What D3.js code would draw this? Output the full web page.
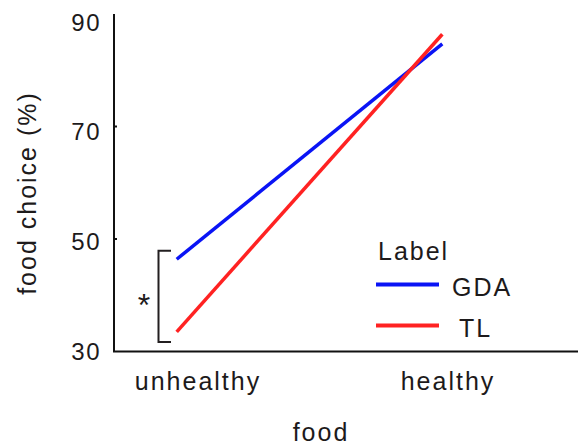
<!DOCTYPE html>
<html>
<head>
<meta charset="utf-8">
<script src="https://cdn.jsdelivr.net/npm/d3@7"></script>
<style>
  body { margin: 0; background: #fff; }
  text { font-family: "Liberation Sans", Arial, sans-serif; fill: #1d1a1b; letter-spacing: 2px; }
</style>
</head>
<body>
<div id="svg-container"></div>
<script>
// data
const foods = ["unhealthy", "healthy"];
const labels = ["GDA", "TL"];
const gdaValues = [46.4, 84.7];
const tlValues = [33.5, 86.4];
const yTicks = [30, 50, 70, 90];
const bracketValues = [47.9, 31.7];

const width = 578, height = 445;
const svg = d3.select("#svg-container").append("svg")
  .attr("width", width).attr("height", height);

const colors = { GDA: "#0a14f5", TL: "#ff2222" };
const series = [
  { name: "GDA", values: gdaValues },
  { name: "TL", values: tlValues }
];

// scales
const y = d3.scaleLinear().domain([30, 90]).range([351.5, 14]);
const yLabel = d3.scaleLinear().domain([30, 90]).range([351, 22]);
const xLabel = d3.scalePoint().domain(foods).range([198, 448]);
const xLine = d3.scalePoint().domain(foods).range([176.7, 442.3]);

const axisColor = "#111";

// axes
svg.append("line")
  .attr("x1", 114).attr("x2", 114)
  .attr("y1", y(90)).attr("y2", y(30))
  .attr("stroke", axisColor).attr("stroke-width", 2);
svg.append("line")
  .attr("x1", 113).attr("x2", width)
  .attr("y1", y(30)).attr("y2", y(30))
  .attr("stroke", axisColor).attr("stroke-width", 2);

svg.selectAll(".ytick")
  .data(yTicks.slice(1, 3))
  .enter().append("line")
  .attr("x1", 114).attr("x2", 117)
  .attr("y1", d => y(d)).attr("y2", d => y(d))
  .attr("stroke", axisColor).attr("stroke-width", 2);

svg.selectAll(".ylab")
  .data(yTicks)
  .enter().append("text")
  .attr("x", 101)
  .attr("y", d => yLabel(d))
  .attr("dy", "0.36em")
  .attr("text-anchor", "end")
  .attr("font-size", 24)
  .style("letter-spacing", "1.5px")
  .text(d => d);

svg.selectAll(".xlab")
  .data(foods)
  .enter().append("text")
  .attr("x", d => xLabel(d))
  .attr("y", 390)
  .attr("text-anchor", "middle")
  .attr("font-size", 25)
  .text(d => d);

// axis titles
svg.append("text")
  .attr("x", 321).attr("y", 441)
  .attr("text-anchor", "middle")
  .attr("font-size", 25)
  .text("food");

svg.append("text")
  .attr("transform", "translate(36,193) rotate(-90)")
  .attr("text-anchor", "middle")
  .attr("font-size", 25)
  .text("food choice (%)");

// lines
const line = d3.line()
  .x((d, i) => xLine(foods[i]))
  .y(d => y(d));

svg.selectAll(".series")
  .data(series)
  .enter().append("path")
  .attr("d", d => line(d.values))
  .attr("fill", "none")
  .attr("stroke", d => colors[d.name])
  .attr("stroke-width", 3.5);

// significance bracket
const bx = 158.5, bcap = 171;
svg.append("path")
  .attr("d", `M${bcap},${y(bracketValues[0])}H${bx}V${y(bracketValues[1])}H${bcap}`)
  .attr("fill", "none")
  .attr("stroke", "#231f20")
  .attr("stroke-width", 2);
svg.append("text")
  .attr("x", 144).attr("y", 316)
  .attr("text-anchor", "middle")
  .attr("font-size", 32)
  .style("letter-spacing", "0px")
  .text("*");

// legend
svg.append("text")
  .attr("x", 378).attr("y", 260)
  .attr("font-size", 25)
  .text("Label");

const legendY = [284.5, 325.5];
const legendTextX = [452, 459];
labels.forEach((name, i) => {
  svg.append("line")
    .attr("x1", 376).attr("x2", 439)
    .attr("y1", legendY[i]).attr("y2", legendY[i])
    .attr("stroke", colors[name])
    .attr("stroke-width", 4);
  svg.append("text")
    .attr("x", legendTextX[i]).attr("y", legendY[i] + 11)
    .attr("font-size", 25)
    .text(name);
});
</script>
</body>
</html>
